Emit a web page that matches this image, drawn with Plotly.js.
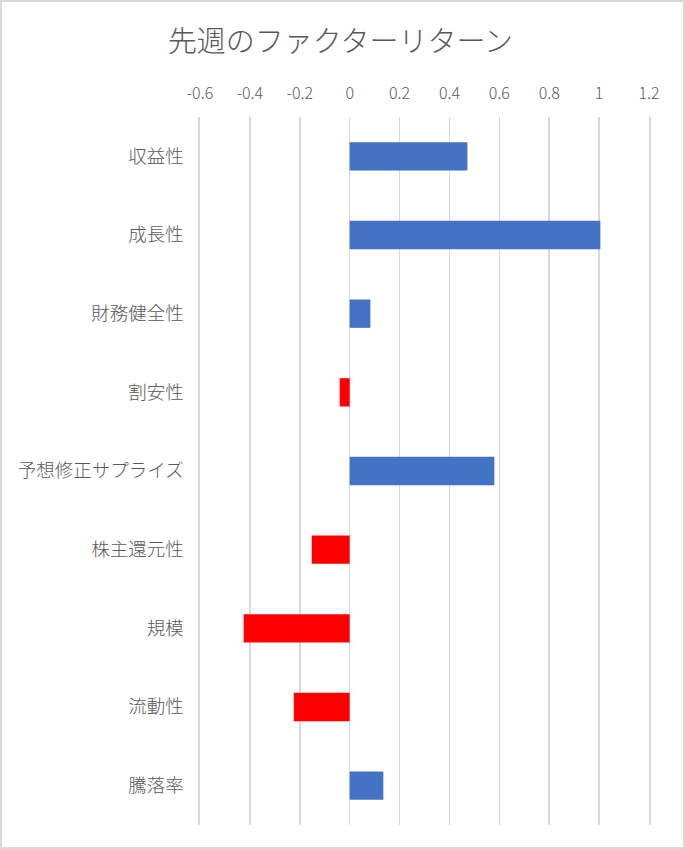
<!DOCTYPE html>
<html>
<head>
<meta charset="utf-8">
<script src="https://cdn.plot.ly/plotly-3.0.1.min.js"></script>
<style>
html,body{margin:0;padding:0;background:#fff;}
#wrap{width:685px;height:849px;box-sizing:border-box;border:2px solid #d9d9d9;position:relative;overflow:hidden;}
#chart{position:absolute;left:-2px;top:-2px;width:685px;height:849px;}
</style>
</head>
<body>
<div id="wrap"><div id="chart"></div></div>
<script>
const categories = ["収益性","成長性","財務健全性","割安性","予想修正サプライズ","株主還元性","規模","流動性","騰落率"];
const values = [0.472, 1.005, 0.083, -0.040, 0.580, -0.152, -0.425, -0.224, 0.135];
const tickValues = [-0.6,-0.4,-0.2,0,0.2,0.4,0.6,0.8,1,1.2];
const tickLabels = ["-0.6","-0.4","-0.2","0","0.2","0.4","0.6","0.8","1","1.2"];
const titleText = "先週のファクターリターン";

const colors = values.map(v => v >= 0 ? "#4472C4" : "#FF0000");
const font = "'Noto Sans CJK JP', 'Noto Sans', sans-serif";

const trace = {
  type: "bar",
  orientation: "h",
  y: categories,
  x: values,
  width: 0.36,
  marker: {color: colors, line: {width: 0}},
  hoverinfo: "x+y"
};

const layout = {
  width: 685,
  height: 849,
  paper_bgcolor: "rgba(0,0,0,0)",
  plot_bgcolor: "rgba(0,0,0,0)",
  margin: {l: 200, r: 36, t: 117, b: 24},
  showlegend: false,
  title: {
    text: titleText,
    font: {family: font, size: 29, color: "#595959", weight: 300},
    x: 0.497, xanchor: "center",
    y: 0.951, yanchor: "middle"
  },
  xaxis: {
    side: "top",
    range: [-0.6, 1.2],
    tickmode: "array",
    tickvals: tickValues,
    ticktext: tickLabels,
    showgrid: true,
    gridcolor: "#d9d9d9",
    gridwidth: 1.6,
    zeroline: true,
    zerolinecolor: "#d9d9d9",
    zerolinewidth: 1.6,
    showline: false,
    ticks: "",
    ticklabelstandoff: 14,
    tickfont: {family: font, size: 16, color: "#595959", weight: 300},
    fixedrange: true
  },
  yaxis: {
    type: "category",
    categoryorder: "array",
    categoryarray: categories,
    autorange: "reversed",
    showgrid: false,
    zeroline: false,
    showline: true,
    mirror: true,
    linecolor: "#d9d9d9",
    linewidth: 1.6,
    ticks: "",
    ticklabelstandoff: 11,
    tickfont: {family: font, size: 18.5, color: "#595959", weight: 300},
    fixedrange: true
  },
  font: {family: font, color: "#595959"}
};

Plotly.newPlot("chart", [trace], layout, {displayModeBar: false, staticPlot: true});
</script>
</body>
</html>
